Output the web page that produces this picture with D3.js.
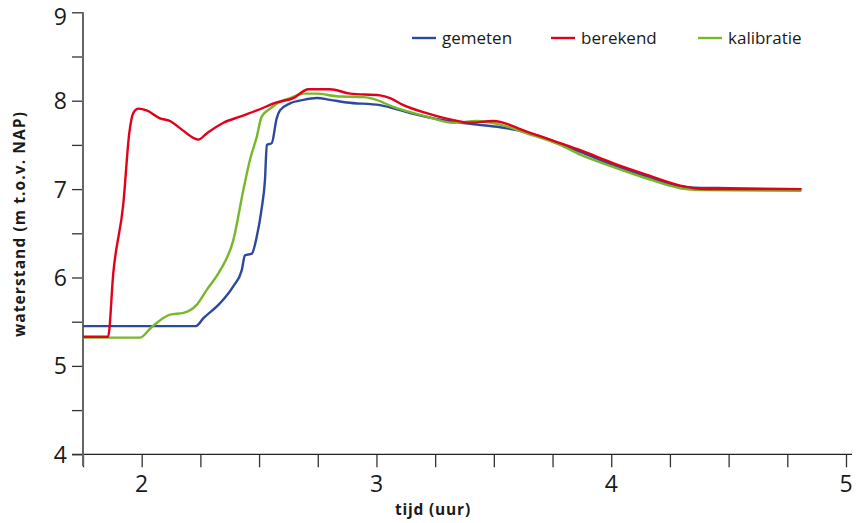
<!DOCTYPE html>
<html lang="nl">
<head>
  <meta charset="utf-8">
  <title>waterstand</title>
  <script src="https://cdn.jsdelivr.net/npm/d3@7"></script>
  <style>
    body { margin: 0; background: #fff; }
    svg { display: block; font-family: 'Open Sans', 'DejaVu Sans', sans-serif; }
    .tick-label { font-size: 23px; fill: #1a1a1a; }
    .title { font-size: 15.5px; font-weight: bold; fill: #1a1a1a; }
    .legend { font-size: 17px; fill: #1a1a1a; }
  </style>
</head>
<body>
<div id="chart"></div>
<script>
// gemeten
const gemetenT = [1.75, 2.00, 2.231, 2.263, 2.334, 2.39, 2.426, 2.44, 2.469, 2.49, 2.511, 2.525, 2.533, 2.554, 2.575,
  2.589, 2.632, 2.689, 2.746, 2.802, 2.874, 3.015, 3.143, 3.285, 3.427, 3.527, 3.64, 3.868, 4.01, 4.152, 4.294, 4.336, 4.5, 4.81];
const gemetenH = [5.45, 5.45, 5.45, 5.54, 5.71, 5.90, 6.08, 6.25, 6.27, 6.46, 6.78, 7.10, 7.50, 7.52, 7.80,
  7.89, 7.97, 8.01, 8.03, 8.01, 7.98, 7.95, 7.86, 7.78, 7.73, 7.70, 7.64, 7.42, 7.27, 7.14, 7.03, 7.02, 7.01, 7.00];

// berekend
const berekendT = [1.75, 1.857, 1.879, 1.922, 1.947, 1.964, 1.986, 2.021, 2.078, 2.121, 2.163, 2.22, 2.241, 2.277, 2.348,
  2.419, 2.49, 2.575, 2.646, 2.71, 2.802, 2.888, 3.015, 3.058, 3.115, 3.214, 3.328, 3.399, 3.498, 3.64, 3.782, 3.868,
  4.01, 4.152, 4.294, 4.4, 4.81];
const berekendH = [5.33, 5.33, 6.05, 6.84, 7.63, 7.86, 7.91, 7.89, 7.80, 7.77, 7.69, 7.58, 7.56, 7.63, 7.75,
  7.82, 7.89, 7.98, 8.03, 8.13, 8.13, 8.08, 8.06, 8.03, 7.95, 7.86, 7.78, 7.75, 7.77, 7.65, 7.52, 7.44,
  7.29, 7.16, 7.04, 7.00, 7.00];

// kalibratie
const kalibratieT = [1.75, 1.993, 2.043, 2.121, 2.178, 2.234, 2.277, 2.334, 2.39, 2.433, 2.461, 2.49, 2.511, 2.547, 2.589,
  2.632, 2.689, 2.746, 2.831, 2.944, 2.987, 3.072, 3.214, 3.328, 3.427, 3.527, 3.64, 3.782, 3.868, 4.01, 4.152, 4.294,
  4.38, 4.81];
const kalibratieH = [5.32, 5.32, 5.44, 5.58, 5.60, 5.69, 5.86, 6.08, 6.42, 6.99, 7.33, 7.59, 7.82, 7.91, 7.99,
  8.03, 8.08, 8.08, 8.05, 8.04, 8.02, 7.93, 7.82, 7.75, 7.77, 7.73, 7.63, 7.50, 7.39, 7.25, 7.12, 7.01,
  6.99, 6.98];

const xTicks = [2, 3, 4, 5];
const yTicks = [4, 5, 6, 7, 8, 9];
const seriesNames = ["gemeten", "berekend", "kalibratie"];
const seriesColors = ["#2c4a9c", "#e2001a", "#77b82a"];

const width = 856, height = 523;
const svg = d3.select("#chart").append("svg").attr("width", width).attr("height", height);

const x = d3.scaleLinear().domain([1.75, 5]).range([83, 846]);
const y = d3.scaleLinear().domain([4, 9]).range([454.3, 12.3]);

// assen
const xAxis = svg.append("g").attr("transform", `translate(0,${y(4)})`)
  .call(d3.axisBottom(x).tickValues(d3.range(1.75, 5.01, 0.25)).tickSize(13).tickFormat(""));
xAxis.select(".domain").remove();
xAxis.selectAll("line").attr("stroke", "#333").attr("stroke-width", 1.3);
svg.append("line").attr("x1", 72).attr("x2", 852).attr("y1", y(4)).attr("y2", y(4))
  .attr("stroke", "#222").attr("stroke-width", 1.2);

const yAxis = svg.append("g").attr("transform", `translate(${x(1.75)},0)`)
  .call(d3.axisLeft(y).tickValues(d3.range(4, 9.01, 0.5)).tickSize(11).tickFormat(""));
yAxis.select(".domain").remove();
yAxis.selectAll("line").attr("stroke", "#333").attr("stroke-width", 1.3);
svg.append("line").attr("x1", x(1.75)).attr("x2", x(1.75)).attr("y1", y(9)).attr("y2", 466)
  .attr("stroke", "#666").attr("stroke-width", 2);

svg.append("g").selectAll("text").data(xTicks).join("text")
  .attr("class", "tick-label").attr("x", d => x(d)).attr("y", 492)
  .attr("text-anchor", "middle").text(d => d);
svg.append("g").selectAll("text").data(yTicks).join("text")
  .attr("class", "tick-label").attr("x", 67).attr("y", d => Math.max(y(d) + 8.5, 25))
  .attr("text-anchor", "end").text(d => d);

svg.append("text").attr("class", "title").attr("x", 433).attr("y", 515)
  .attr("text-anchor", "middle").attr("letter-spacing", 0.8).text("tijd (uur)");
svg.append("text").attr("class", "title")
  .attr("transform", `translate(25,224) rotate(-90)`)
  .attr("text-anchor", "middle").attr("letter-spacing", 1.1).text("waterstand (m t.o.v. NAP)");

// lijnen
const line = d3.line().x(d => x(d[0])).y(d => y(d[1])).curve(d3.curveMonotoneX);
const series = [
  d3.zip(gemetenT, gemetenH),
  d3.zip(berekendT, berekendH),
  d3.zip(kalibratieT, kalibratieH)
];
// volgorde: gemeten onder, dan kalibratie, dan berekend
[0, 2, 1].forEach(i => {
  svg.append("path").datum(series[i])
    .attr("fill", "none").attr("stroke", seriesColors[i])
    .attr("stroke-width", 2.4).attr("stroke-linejoin", "round")
    .attr("d", line);
});

// legenda
const legendX = [412, 551, 698];
const legend = svg.append("g").selectAll("g").data(seriesNames).join("g")
  .attr("transform", (d, i) => `translate(${legendX[i]},38)`);
legend.append("line").attr("x1", 0).attr("x2", 24).attr("y1", 0).attr("y2", 0)
  .attr("stroke", (d, i) => seriesColors[i]).attr("stroke-width", 2.4);
legend.append("text").attr("class", "legend").attr("x", 30).attr("y", 6).text(d => d);
</script>
</body>
</html>
